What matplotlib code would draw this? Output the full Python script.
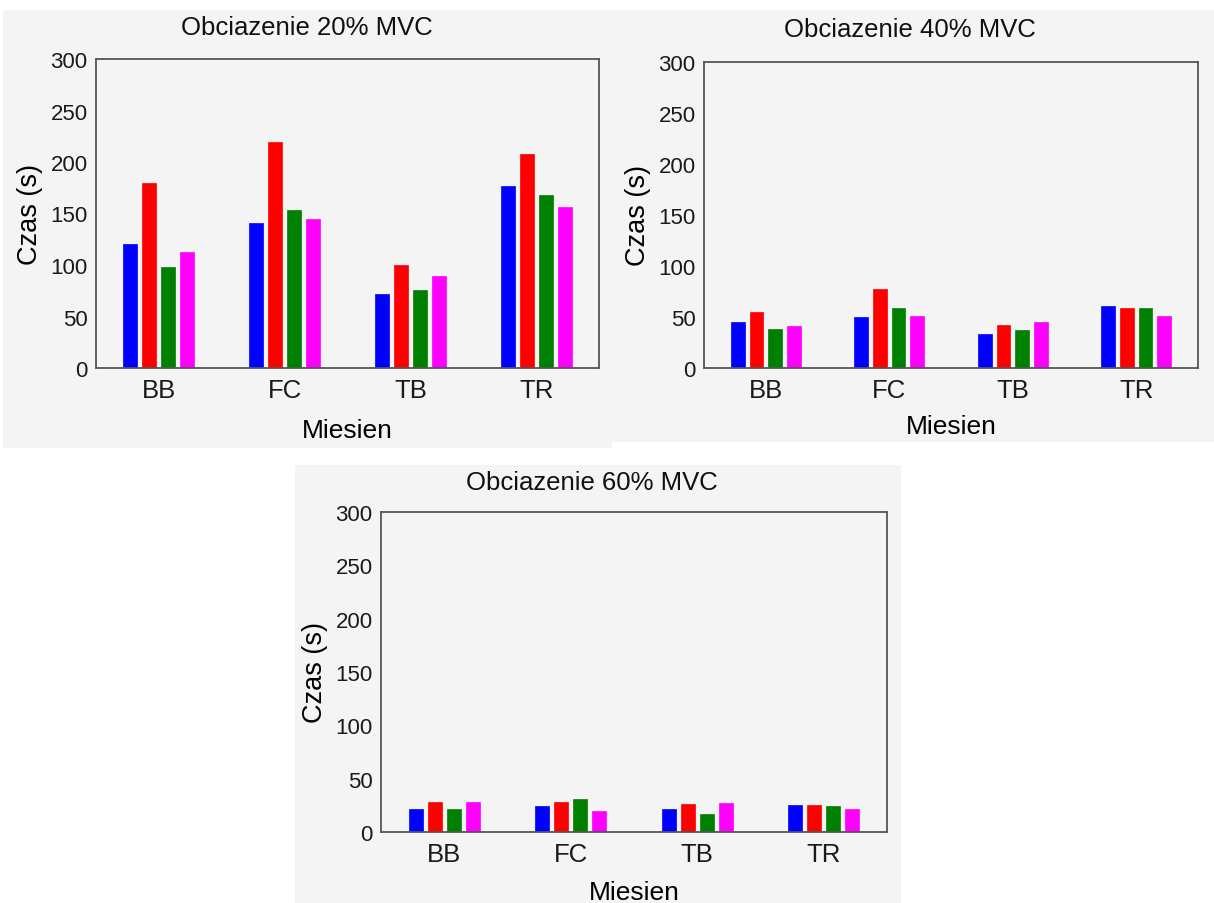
import numpy as np
import matplotlib
matplotlib.use("Agg")
import matplotlib.pyplot as plt
from matplotlib.patches import Rectangle

plt.rcParams['font.family'] = ['Liberation Sans', 'DejaVu Sans']

# Data
muscles = ['BB', 'FC', 'TB', 'TR']
series_colors = ['#0000ff', '#ff0000', '#008000', '#ff00ff']

load20 = [
    [120, 141, 72, 177],   # blue
    [180, 219, 100, 208],  # red
    [98, 153, 76, 168],    # green
    [113, 145, 89, 156],   # magenta
]
load40 = [
    [45, 50, 33, 61],
    [55, 77, 42, 59],
    [38, 59, 37, 59],
    [41, 51, 45, 51],
]
load60 = [
    [22, 24, 22, 25],
    [28, 28, 26, 25],
    [22, 31, 17, 24],
    [28, 20, 27, 22],
]
titles = ['Obciazenie 20% MVC', 'Obciazenie 40% MVC', 'Obciazenie 60% MVC']

W, H = 1214, 904
fig = plt.figure(figsize=(W / 100, H / 100), dpi=100)
bg = '#f4f4f4'


def px_rect(x0, y0, x1, y1):
    # pixel box (top-left origin) -> figure fraction rect
    return [x0 / W, 1 - y1 / H, (x1 - x0) / W, (y1 - y0) / H]


# gray panel backgrounds
for box in [(3, 11, 612, 449), (612, 11, 1214, 443), (295, 466, 901, 904)]:
    l, b, w, h = px_rect(*box)
    fig.patches.append(Rectangle((l, b), w, h, transform=fig.transFigure,
                                 facecolor=bg, edgecolor='none', zorder=-5))

axes_boxes = [(96, 60, 599, 369), (704, 63, 1198, 369), (381, 513, 887, 833)]
title_pos = [(307, 28), (910, 30), (592, 483)]
xlabel_pads = [12, 9, 10]
datasets = [load20, load40, load60]

x = np.arange(len(muscles))
step = 0.151
width = 0.112

for box, data, title, tpos, lp in zip(axes_boxes, datasets, titles, title_pos, xlabel_pads):
    ax = fig.add_axes(px_rect(*box))
    ax.set_facecolor(bg)
    for i, (vals, c) in enumerate(zip(data, series_colors)):
        ax.bar(x + (i - 1.5) * step, vals, width=width, color=c,
               edgecolor=c, linewidth=0.5)
    ax.set_xlim(-0.5, 3.5)
    ax.set_ylim(0, 300)
    ax.set_yticks(np.arange(0, 301, 50))
    ax.set_xticks(x)
    ax.set_xticklabels(muscles, fontsize=18.5)
    ax.tick_params(axis='y', labelsize=16, length=0, pad=6, labelcolor='#1a1a1a')
    ax.tick_params(axis='x', length=0, pad=7, labelcolor='#1a1a1a')
    for s in ax.spines.values():
        s.set_color('#555555')
        s.set_linewidth(1.3)
    ax.set_xlabel('Miesien', fontsize=19, labelpad=lp)
    ax.set_ylabel('Czas (s)', fontsize=19.5, labelpad=5)
    fig.text(tpos[0] / W, 1 - tpos[1] / H, title, fontsize=18.5,
             ha='center', va='center', color='#111111')

fig.savefig('out.png', dpi=100, facecolor='white')
